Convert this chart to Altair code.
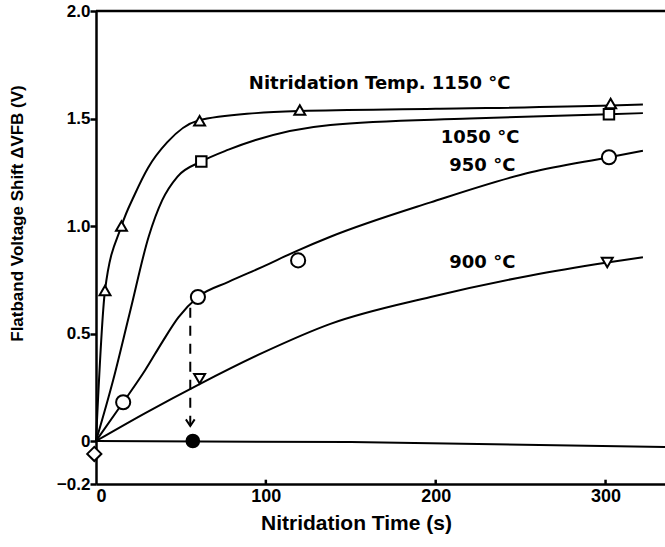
import altair as alt
import pandas as pd

# ---- data ----
# smooth fitted curves
c1150_x = [0, 5.3, 15, 23, 30.6, 42, 60, 94, 120, 200, 303, 322]
c1150_y = [0, 0.70, 1.00, 1.15, 1.27, 1.39, 1.49, 1.525, 1.535, 1.545, 1.56, 1.565]
c1050_x = [0, 10, 20, 31, 39, 48, 62, 78, 94, 138, 220, 302, 322]
c1050_y = [0, 0.28, 0.60, 0.95, 1.12, 1.23, 1.30, 1.355, 1.40, 1.47, 1.50, 1.52, 1.525]
c950_x = [0, 16, 29, 39, 48.5, 60, 78, 98, 117, 138, 197, 256, 302, 322]
c950_y = [0, 0.18, 0.33, 0.46, 0.575, 0.67, 0.74, 0.81, 0.88, 0.95, 1.11, 1.25, 1.32, 1.35]
c900_x = [0, 29, 61, 98, 138, 197, 256, 301, 322]
c900_y = [0, 0.13, 0.265, 0.41, 0.545, 0.67, 0.77, 0.83, 0.855]
zero_x = [0, 150, 335]
zero_y = [0, -0.005, -0.028]

# measured points
m1150_x = [5.3, 15, 61, 120, 303]
m1150_y = [0.70, 1.00, 1.49, 1.54, 1.57]
m1050_x = [62, 302]
m1050_y = [1.30, 1.52]
m950_x = [16, 60, 119, 302]
m950_y = [0.18, 0.67, 0.84, 1.32]
m900_x = [61, 301]
m900_y = [0.29, 0.83]
diamond_x = [-1]
diamond_y = [-0.06]
filled_x = [57]
filled_y = [0.0]

dash_x = [55.5, 55.5]
dash_y = [0.62, 0.07]

labels = ["Nitridation Temp. 1150 °C", "1050 °C", "950 °C", "900 °C"]
label_x = [90, 203, 208, 208]
label_y = [1.66, 1.41, 1.28, 0.83]

X_DOM = [0, 335]
Y_DOM = [-0.2, 2.0]

curves = []
for name, xs_, ys_ in [("1150", c1150_x, c1150_y), ("1050", c1050_x, c1050_y),
                       ("950", c950_x, c950_y), ("900", c900_x, c900_y)]:
    for a, b in zip(xs_, ys_):
        curves.append({"series": name, "t": a, "v": b})
curves_df = pd.DataFrame(curves)
zero_df = pd.DataFrame({"t": zero_x, "v": zero_y})

xs = alt.Scale(domain=X_DOM, nice=False, zero=False)
ys = alt.Scale(domain=Y_DOM, nice=False, zero=False)

x_axis = alt.Axis(values=[0, 100, 200, 300], tickSize=0, labelFont="Liberation Sans",
                  labelFontWeight="bold", labelFontSize=18, labelColor="black",
                  labelPadding=3, domainColor="black", domainWidth=2.5, grid=False,
                  title="Nitridation Time  (s)", titleFont="Liberation Sans",
                  titleFontSize=21, titleFontWeight="bold", titleColor="black",
                  titlePadding=7, titleX=260, titleAlign="center")
y_axis = alt.Axis(values=[-0.2, 0, 0.5, 1.0, 1.5, 2.0], tickSize=6, tickWidth=2.5,
                  tickColor="black",
                  labelExpr="datum.value == 0 ? '0' : format(datum.value, '.1f')",
                  labelFont="Liberation Sans", labelFontWeight="bold", labelFontSize=17,
                  labelColor="black", labelPadding=0, domainColor="black",
                  domainWidth=2.5, grid=False,
                  title="Flatband Voltage Shift  ΔVFB (V)", titleFont="Liberation Sans",
                  titleFontSize=17, titleFontWeight="bold", titleColor="black",
                  titleX=-70, titleY=202)

PX = alt.X("t:Q", scale=xs, axis=x_axis)
PY = alt.Y("v:Q", scale=ys, axis=y_axis)

base_lines = alt.Chart(curves_df).mark_line(
    color="black", strokeWidth=2, interpolate="monotone"
).encode(x=PX, y=PY, detail="series:N")

zero_line = alt.Chart(zero_df).mark_line(color="black", strokeWidth=2).encode(x=PX, y=PY)

def pts(xv, yv, shape, size, filled=False):
    df = pd.DataFrame({"t": xv, "v": yv})
    return alt.Chart(df).mark_point(
        shape=shape, size=size, filled=True,
        fill="black" if filled else "white", stroke="black", strokeWidth=2, opacity=1
    ).encode(x=PX, y=PY)

markers = [
    pts(m1150_x, m1150_y, "triangle-up", 120),
    pts(m1050_x, m1050_y, "square", 110),
    pts(m950_x, m950_y, "circle", 200),
    pts(m900_x, m900_y, "triangle-down", 120),
    pts(diamond_x, diamond_y, "diamond", 200),
    pts(filled_x, filled_y, "circle", 160, filled=True),
]

dash = alt.Chart(pd.DataFrame({"t": dash_x, "v": dash_y})).mark_line(
    color="black", strokeWidth=2, strokeDash=[10, 8]
).encode(x=PX, y=PY)

arrow = alt.Chart(pd.DataFrame({"t": [dash_x[1]], "v": [dash_y[1]]})).mark_point(
    shape="M-0.8,-1.2L0,0L0.8,-1.2", size=120, filled=False, stroke="black",
    strokeWidth=2, opacity=1
).encode(x=PX, y=PY)

top_border = alt.Chart(pd.DataFrame({"t": [X_DOM[0]], "t2": [X_DOM[1]], "v": [Y_DOM[1]]})).mark_rule(
    color="black", strokeWidth=2.5
).encode(x=PX, x2="t2:Q", y=PY)

xticks = alt.Chart(pd.DataFrame({"t": [100, 200, 300], "v": [-0.2] * 3, "v2": [-0.18] * 3})).mark_rule(
    color="black", strokeWidth=2.5
).encode(x=PX, y=PY, y2="v2:Q")

text = alt.Chart(pd.DataFrame({"t": label_x, "v": label_y, "lab": labels})).mark_text(
    align="left", baseline="middle", font="DejaVu Sans", fontSize=18, fontWeight="bold",
    color="black"
).encode(x=PX, y=PY, text="lab:N")

chart = alt.layer(base_lines, zero_line, dash, arrow, top_border, xticks, text, *markers).properties(
    width=569, height=473,
    autosize=alt.AutoSizeParams(type="none"),
    padding={"left": 96, "top": 11, "right": 0, "bottom": 63},
).configure_view(stroke=None).configure(background="white")

chart.save("out.html", embed_options={"renderer": "svg", "actions": False})
